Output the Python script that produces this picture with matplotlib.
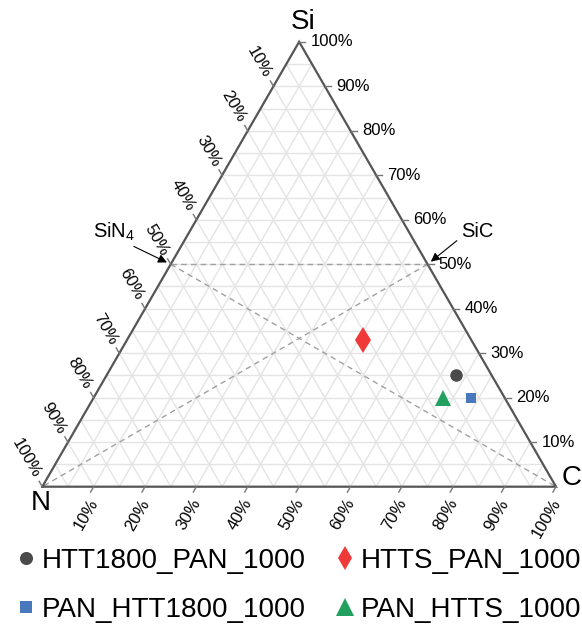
import numpy as np
import matplotlib.pyplot as plt
from matplotlib.lines import Line2D

plt.rcParams['font.family'] = ['Liberation Sans', 'DejaVu Sans']
plt.rcParams['mathtext.fontset'] = 'custom'
plt.rcParams['mathtext.rm'] = 'Liberation Sans'

# sample compositions (at.%): Si, N, C
names = ['HTT1800_PAN_1000', 'HTTS_PAN_1000', 'PAN_HTT1800_1000', 'PAN_HTTS_1000']
si_pct = [25, 33, 20, 20]
n_pct = [7, 21, 6.5, 12]
c_pct = [68, 46, 73.5, 68]

tick_vals = [10, 20, 30, 40, 50, 60, 70, 80, 90, 100]
tick_lbls = [f'{v}%' for v in tick_vals]

markers = ['o', 'd', 's', '^']
colors = ['#4a4a4a', '#f03a3a', '#4a78bd', '#22a060']
msizes = [9, 12.8, 7.8, 12]
leg_sizes = [9.4, 12.7, 8, 13]

H = np.sqrt(3) / 2


def tern(si, c):
    # cartesian position, N at origin, C at (1, 0), Si on top
    return c + si / 2, si * H


fig = plt.figure(figsize=(5.82, 6.25), dpi=100)
ax = fig.add_axes([0, 0, 1, 1])
ax.set_xlim(-0.0823, 1.0506)
ax.set_ylim(-0.2692, 0.9474)
ax.axis('off')

# grid every 5%
for k in np.arange(0.05, 1.0, 0.05):
    # constant Si
    x0, y0 = tern(k, 0)
    x1, y1 = tern(k, 1 - k)
    ax.plot([x0, x1], [y0, y1], color='#e4e4e4', lw=1.0, zorder=1)
    # constant C
    x0, y0 = tern(0, k)
    x1, y1 = tern(1 - k, k)
    ax.plot([x0, x1], [y0, y1], color='#e4e4e4', lw=1.0, zorder=1)
    # constant N
    x0, y0 = tern(0, 1 - k)
    x1, y1 = tern(1 - k, 0)
    ax.plot([x0, x1], [y0, y1], color='#e4e4e4', lw=1.0, zorder=1)

# triangle edges
ex = [0, 1, 0.5, 0]
ey = [0, 0, H, 0]
ax.plot(ex, ey, color='#555555', lw=1.6, zorder=3, solid_joinstyle='miter')

# reference lines Si3N4 / SiC
p_sin = tern(0.5, 0)
p_sic = tern(0.5, 0.5)
dash = dict(color='#a0a0a0', lw=1.0, linestyle=(0, (4, 3)), zorder=2)
ax.plot([p_sin[0], p_sic[0]], [p_sin[1], p_sic[1]], **dash)
ax.plot([p_sin[0], 1], [p_sin[1], 0], **dash)
ax.plot([p_sic[0], 0], [p_sic[1], 0], **dash)

tl = 0.012
off = 0.022
fs_tick = 12
for v, lb in zip(tick_vals, tick_lbls):
    f = v / 100
    # right edge: Si
    x, y = tern(f, 1 - f)
    ax.plot([x, x + tl], [y, y], color='#777777', lw=1.0, zorder=3)
    ax.text(x + off, y, lb, fontsize=fs_tick, ha='left', va='center')
    # left edge: N
    x, y = tern(1 - f, 0)
    dx, dy = -0.5, H
    ax.plot([x, x + dx * tl], [y, y + dy * tl], color='#777777', lw=1.0, zorder=3)
    ax.text(x + dx * off, y + dy * off, lb, fontsize=fs_tick, rotation=-60,
            rotation_mode='anchor', ha='right', va='center')
    # bottom edge: C
    x, y = tern(0, f)
    dx, dy = -0.5, -H
    ax.plot([x, x + dx * tl], [y, y + dy * tl], color='#777777', lw=1.0, zorder=3)
    ax.text(x + dx * off, y + dy * off, lb, fontsize=fs_tick, rotation=60,
            rotation_mode='anchor', ha='right', va='top')

# corner labels
ax.text(0.508, 0.904, 'Si', fontsize=20, ha='center', va='center')
ax.text(-0.003, -0.032, 'N', fontsize=20, ha='center', va='center')
ax.text(1.031, 0.017, 'C', fontsize=20, ha='center', va='center')

arr = dict(arrowstyle='-|>', color='black', lw=0.8, mutation_scale=13, shrinkA=1, shrinkB=3)
ax.annotate('SiN$_4$', xy=p_sin, xytext=(0.14, 0.496), fontsize=14.5,
            ha='center', va='center', arrowprops=dict(relpos=(0.8, 0), **arr))
ax.annotate('SiC', xy=p_sic, xytext=(0.846, 0.496), fontsize=14.5,
            ha='center', va='center', arrowprops=dict(relpos=(0, 0.2), **arr))

# samples
for i in range(len(names)):
    x, y = tern(si_pct[i] / 100, c_pct[i] / 100)
    ax.plot(x, y, marker=markers[i], color=colors[i], markersize=msizes[i],
            linestyle='none', markeredgewidth=0, zorder=5)

handles = {}
for i, nm in enumerate(names):
    handles[nm] = Line2D([], [], marker=markers[i], color=colors[i], markersize=leg_sizes[i],
                         linestyle='none', markeredgewidth=0)
order = [0, 2, 1, 3]
fig.legend([handles[names[i]] for i in order], [names[i] for i in order],
           loc='upper left', bbox_to_anchor=(0.03, 0.124), ncol=2, frameon=False,
           fontsize=20, handlelength=0.6, handletextpad=0.26, columnspacing=1.14,
           labelspacing=0.85, borderpad=0, borderaxespad=0)

fig.savefig('out.png', dpi=100)
